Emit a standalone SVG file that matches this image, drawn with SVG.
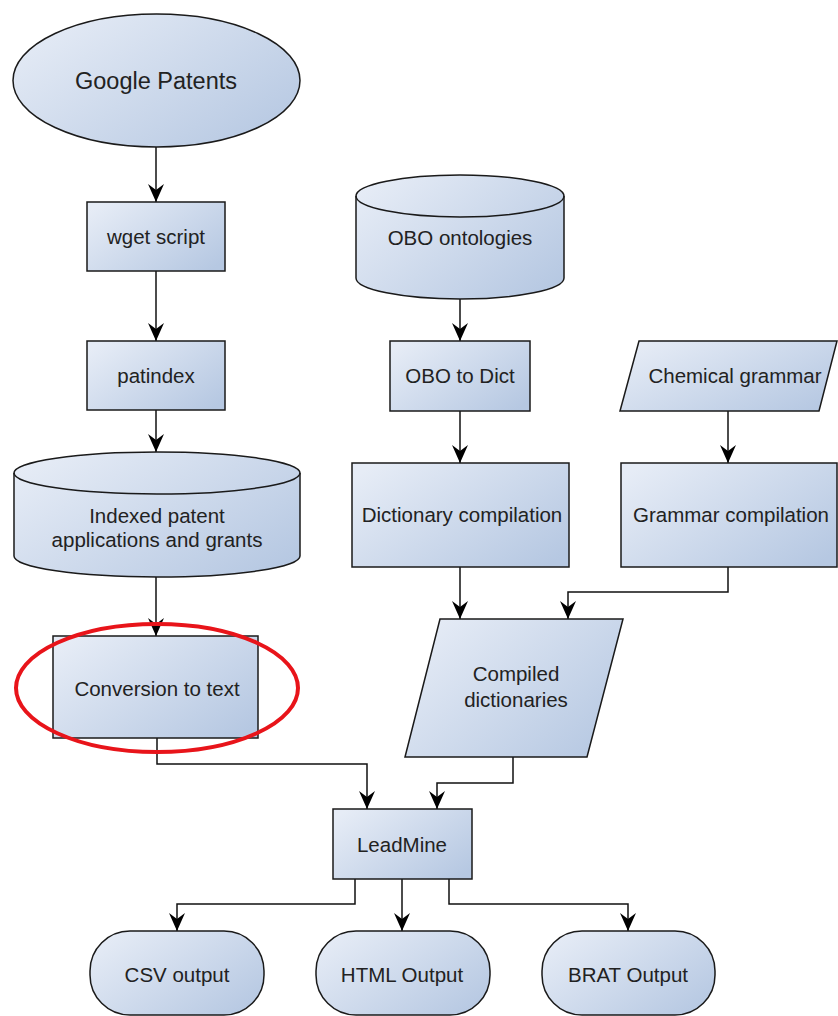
<svg xmlns="http://www.w3.org/2000/svg" width="838" height="1016" viewBox="0 0 838 1016">
<defs>
<linearGradient id="g" x1="0" y1="0.15" x2="1" y2="0.85">
<stop offset="0" stop-color="#e6ecf6"/>
<stop offset="1" stop-color="#b6c8e2"/>
</linearGradient>
<marker id="arr" markerWidth="18" markerHeight="16" viewBox="0 0 18 16" refX="18" refY="8" orient="auto" markerUnits="userSpaceOnUse">
<path d="M0,0 L18,8 L0,16 L6,8 Z" fill="#000"/>
</marker>
<style>
.s{fill:url(#g);stroke:#1a1a1a;stroke-width:1.5}
.t{font-family:"Liberation Sans",Arial,sans-serif;font-size:20.5px;fill:#222;text-anchor:middle}
.c{fill:none;stroke:#111;stroke-width:1.5;marker-end:url(#arr)}
</style>
</defs>
<rect width="838" height="1016" fill="#fff"/>
<g id="connectors">
<path class="c" d="M156,147 L156,202"/>
<path class="c" d="M156,271 L156,341"/>
<path class="c" d="M156,410 L156,452"/>
<path class="c" d="M156,577 L156,636"/>
<path class="c" d="M460,299 L460,341"/>
<path class="c" d="M460,411 L460,463"/>
<path class="c" d="M728,411 L728,463"/>
<path class="c" d="M460,567 L460,619"/>
<path class="c" d="M728,567 L728,592 L568,592 L568,619"/>
<path class="c" d="M157,738 L157,764 L367,764 L367,809"/>
<path class="c" d="M513,757 L513,783 L437,783 L437,809"/>
<path class="c" d="M355,879 L355,904 L177,904 L177,931"/>
<path class="c" d="M402,879 L402,931"/>
<path class="c" d="M449,879 L449,904 L628,904 L628,931"/>
</g>
<g id="google-patents">
<ellipse class="s" cx="156.5" cy="80.5" rx="143.5" ry="66.5"/>
<text class="t" x="156" y="88.5" style="font-size:23.5px">Google Patents</text>
</g>
<g id="wget-script">
<rect class="s" x="87" y="202" width="138" height="69"/>
<text class="t" x="156" y="244">wget script</text>
</g>
<g id="patindex">
<rect class="s" x="87" y="341" width="138" height="69"/>
<text class="t" x="156" y="383">patindex</text>
</g>
<g id="indexed-patents">
<path class="s" d="M14,473 A143,21 0 0 1 300,473 L300,556 A143,21 0 0 1 14,556 Z"/>
<path d="M14,473 A143,21 0 0 0 300,473" fill="none" stroke="#1a1a1a" stroke-width="1.5"/>
<text class="t" x="157" y="523">Indexed patent</text>
<text class="t" x="157" y="547">applications and grants</text>
</g>
<g id="conversion-to-text">
<rect class="s" x="53" y="636" width="205" height="102"/>
<text class="t" x="157" y="696">Conversion to text</text>
</g>
<g id="obo-ontologies">
<path class="s" d="M356,196 A104,21 0 0 1 564,196 L564,278 A104,21 0 0 1 356,278 Z"/>
<path d="M356,196 A104,21 0 0 0 564,196" fill="none" stroke="#1a1a1a" stroke-width="1.5"/>
<text class="t" x="460" y="245">OBO ontologies</text>
</g>
<g id="obo-to-dict">
<rect class="s" x="390" y="341" width="140" height="70"/>
<text class="t" x="460" y="383">OBO to Dict</text>
</g>
<g id="chemical-grammar">
<polygon class="s" points="639,341 837,341 819,411 620,411"/>
<text class="t" x="735" y="383">Chemical grammar</text>
</g>
<g id="dictionary-compilation">
<rect class="s" x="352" y="463" width="217" height="104"/>
<text class="t" x="462" y="522">Dictionary compilation</text>
</g>
<g id="grammar-compilation">
<rect class="s" x="621" y="463" width="216" height="104"/>
<text class="t" x="731" y="522">Grammar compilation</text>
</g>
<g id="compiled-dictionaries">
<polygon class="s" points="440,619 623,619 587,757 405,757"/>
<text class="t" x="516" y="681">Compiled</text>
<text class="t" x="516" y="707">dictionaries</text>
</g>
<g id="leadmine">
<rect class="s" x="333" y="809" width="139" height="70"/>
<text class="t" x="402" y="852">LeadMine</text>
</g>
<g id="csv-output">
<rect class="s" x="90" y="931" width="174" height="84" rx="40" ry="40"/>
<text class="t" x="177" y="982">CSV output</text>
</g>
<g id="html-output">
<rect class="s" x="316" y="931" width="174" height="84" rx="40" ry="40"/>
<text class="t" x="402" y="982">HTML Output</text>
</g>
<g id="brat-output">
<rect class="s" x="542" y="931" width="173" height="84" rx="40" ry="40"/>
<text class="t" x="628" y="982">BRAT Output</text>
</g>
<g id="highlight">
<ellipse cx="157" cy="688" rx="141" ry="64" fill="none" stroke="#e8141a" stroke-width="4"/>
</g>
</svg>
